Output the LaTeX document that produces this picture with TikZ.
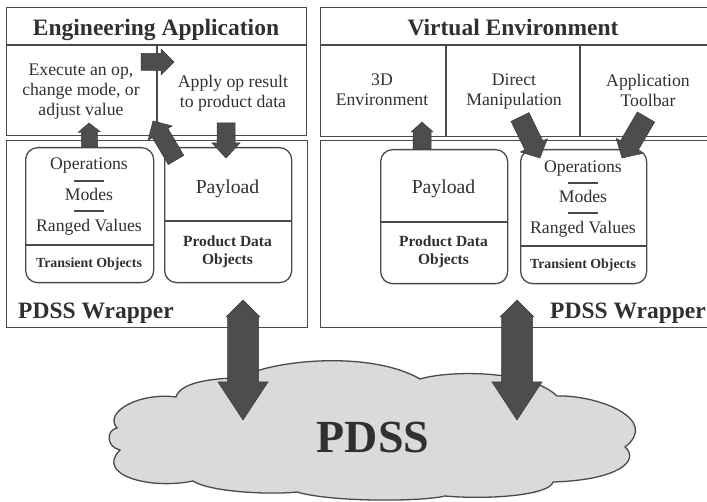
\documentclass[tikz,border=0pt]{standalone}
\usepackage{fontspec}
\setmainfont{Liberation Serif}
\usetikzlibrary{calc}

\definecolor{ink}{HTML}{303030}
\definecolor{framec}{HTML}{4A4A4A}
\definecolor{arrowc}{HTML}{4D4D4D}
\definecolor{arrowedge}{HTML}{383838}
\definecolor{cloudc}{HTML}{DADADA}

% block arrow: #1 tail, #2 tip, #3 half shaft width, #4 half head width, #5 head length
\newcommand{\blockarrow}[5]{%
  \coordinate (baN) at ($(#2)!#5!(#1)$);
  \path[arrowfill] ($(#1)!#3!90:(#2)$) -- ($(baN)!#3!90:(#2)$) -- ($(baN)!#4!90:(#2)$) -- (#2)
    -- ($(baN)!#4!-90:(#2)$) -- ($(baN)!#3!-90:(#2)$) -- ($(#1)!#3!-90:(#2)$) -- cycle;
}
% double block arrow: #1 tip A, #2 tip B, #3 half shaft, #4/#5 head A half width/length, #6/#7 head B
\newcommand{\dblarrow}[7]{%
  \coordinate (daA) at ($(#1)!#5!(#2)$);
  \coordinate (daB) at ($(#2)!#7!(#1)$);
  \path[arrowfill] (#1) -- ($(daA)!#4!90:(#2)$) -- ($(daA)!#3!90:(#2)$) -- ($(daB)!#3!-90:(#1)$)
    -- ($(daB)!#6!-90:(#1)$) -- (#2) -- ($(daB)!#6!90:(#1)$) -- ($(daB)!#3!90:(#1)$)
    -- ($(daA)!#3!-90:(#2)$) -- ($(daA)!#4!-90:(#2)$) -- cycle;
}

\tikzset{
  panel/.style={draw=framec, line width=1.3pt, rectangle, anchor=north west, inner sep=0pt},
  rbox/.style={draw=framec, line width=1.3pt, rectangle, rounded corners=12pt, anchor=north west, inner sep=0pt},
  bandsep/.style={draw=framec, line width=1.8pt},
  cellsep/.style={draw=framec, line width=1.1pt},
  boxsep/.style={draw=framec, line width=2.4pt},
  shortrule/.style={draw=framec, line width=1.4pt},
  paneltitle/.style={font=\fontsize{23.5}{26}\selectfont\bfseries, text=ink, anchor=base, inner sep=0pt},
  wraplabel/.style={font=\fontsize{23.5}{26}\selectfont\bfseries, text=ink, anchor=base west, inner sep=0pt},
  tasklabel/.style={font=\fontsize{17.7}{20}\selectfont, text=ink, align=center, inner sep=0pt},
  entry/.style={font=\fontsize{17.7}{20}\selectfont, text=ink, anchor=base, inner sep=0pt},
  payload/.style={font=\fontsize{19.7}{22}\selectfont, text=ink, anchor=base, inner sep=0pt},
  objlabel/.style={font=\fontsize{15.5}{17.5}\selectfont\bfseries, text=ink, align=center, inner sep=0pt},
  transient/.style={font=\fontsize{13.9}{16}\selectfont\bfseries, text=ink, anchor=base, inner sep=0pt},
  arrowfill/.style={fill=arrowc, draw=arrowedge, line width=0.5pt, line join=miter},
  cloudline/.style={draw=framec, line width=1.3pt, fill=cloudc},
  bigword/.style={font=\fontsize{46}{50}\selectfont\bfseries, text=ink, anchor=base, inner sep=0pt}
}

\begin{document}
\begin{tikzpicture}[x=1pt,y=-1pt]
\useasboundingbox (0,0) rectangle (707,502);

% ---- the shared PDSS cloud ----
\path[cloudline] (117,428) .. controls (103,412) and (140,392) .. (176,397)
  .. controls (180,383) and (210,378) .. (240,378)
  .. controls (270,360) and (370,350) .. (420,379)
  .. controls (450,370) and (530,370) .. (557,396)
  .. controls (600,395) and (660,420) .. (625,447)
  .. controls (640,460) and (620,480) .. (553,482)
  .. controls (550,495) and (490,500) .. (445,496)
  .. controls (420,502) and (330,502) .. (297,492)
  .. controls (270,495) and (210,492) .. (193,481)
  .. controls (150,490) and (95,475) .. (120,450)
  .. controls (106,447) and (106,430) .. (117,428) -- cycle;
\node[bigword] (pdss) at (373,453) {PDSS};

% ---- Engineering Application ----
\node[panel, minimum width=300pt, minimum height=128pt] (ea) at (6,7) {};
\draw[bandsep] (6,45) -- (306,45);
\draw[cellsep] (157,45) -- (157,135);
\node[paneltitle] (eaTitle) at (156,36) {Engineering Application};
\node[tasklabel] (exec) at (81,92) {Execute an op,\\change mode, or\\adjust value};
\node[tasklabel] (apply) at (233,93) {Apply op result\\to product data};

% ---- left PDSS wrapper ----
\node[panel, minimum width=301pt, minimum height=187pt] (wl) at (6,140) {};
\node[wraplabel] (wlLabel) at (18,319) {PDSS Wrapper};

\node[rbox, minimum width=128pt, minimum height=135pt] (tL) at (25,147) {};
\draw[boxsep] (25,245) -- (153,245);
\node[entry] (opsL) at (89,170) {Operations};
\draw[shortrule] (74,181) -- (104,181);
\node[entry] (modesL) at (89,201) {Modes};
\draw[shortrule] (74,211) -- (104,211);
\node[entry] (rangedL) at (89,232) {Ranged Values};
\node[transient] (transL) at (89,268) {Transient Objects};

\node[rbox, minimum width=127pt, minimum height=135pt] (pL) at (164,147) {};
\draw[boxsep] (164,221) -- (291,221);
\node[payload] (payL) at (227.5,194) {Payload};
\node[objlabel] (pdoL) at (227.5,252) {Product Data\\Objects};

% ---- Virtual Environment ----
\node[panel, minimum width=390pt, minimum height=129pt] (ve) at (320,7) {};
\draw[bandsep] (320,45) -- (710,45);
\draw[cellsep] (446,45) -- (446,136);
\draw[cellsep] (580,45) -- (580,136);
\node[paneltitle] (veTitle) at (513,36) {Virtual Environment};
\node[tasklabel] (env3d) at (382,90) {3D\\Environment};
\node[tasklabel] (direct) at (514,92) {Direct\\Manipulation};
\node[tasklabel] (toolbar) at (648,90) {Application\\Toolbar};

% ---- right PDSS wrapper ----
\node[panel, minimum width=390pt, minimum height=187pt] (wr) at (320,140) {};
\node[wraplabel] (wrLabel) at (550,319) {PDSS Wrapper};

\node[rbox, minimum width=127pt, minimum height=134pt] (pR) at (380,149) {};
\draw[boxsep] (380,222) -- (507,222);
\node[payload] (payR) at (443.5,194) {Payload};
\node[objlabel] (pdoR) at (443.5,252) {Product Data\\Objects};

\node[rbox, minimum width=126pt, minimum height=134pt] (tR) at (520,149) {};
\draw[boxsep] (520,246) -- (646,246);
\node[entry] (opsR) at (583,173) {Operations};
\draw[shortrule] (568,183) -- (598,183);
\node[entry] (modesR) at (583,203) {Modes};
\draw[shortrule] (568,213) -- (598,213);
\node[entry] (rangedR) at (583,234) {Ranged Values};
\node[transient] (transR) at (583,269) {Transient Objects};

% ---- wrapper <-> PDSS exchange ----
\coordinate (wlPort) at (243,300);
\coordinate (cloudL) at (243,420);
\coordinate (wrPort) at (517,300);
\coordinate (cloudR) at (517,420);
\dblarrow{wlPort}{cloudL}{15.5pt}{17pt}{17pt}{25pt}{38pt}
\dblarrow{wrPort}{cloudR}{15.5pt}{17pt}{17pt}{25pt}{38pt}

% ---- application side flows ----
\coordinate (execIn) at (89,123);
\blockarrow{tL.north}{execIn}{8pt}{11pt}{9pt}
\coordinate (payOut) at (176,160);
\coordinate (execBack) at (153,121);
\blockarrow{payOut}{execBack}{9pt}{14pt}{14pt}
\coordinate (execOut) at (141,62);
\coordinate (applyIn) at (174,62);
\blockarrow{execOut}{applyIn}{8.5pt}{13pt}{13pt}
\coordinate (applyOut) at (226,123);
\coordinate (payIn) at (226,158);
\blockarrow{applyOut}{payIn}{9pt}{14pt}{15pt}

% ---- virtual environment side flows ----
\coordinate (payRout) at (422,149);
\coordinate (envIn) at (422,122);
\blockarrow{payRout}{envIn}{9pt}{11pt}{10pt}
\coordinate (directOut) at (520,117);
\coordinate (opsInA) at (540,158);
\blockarrow{directOut}{opsInA}{10pt}{15pt}{14pt}
\coordinate (toolbarOut) at (646,117);
\coordinate (opsInB) at (622,158);
\blockarrow{toolbarOut}{opsInB}{10pt}{15pt}{14pt}
\end{tikzpicture}
\end{document}
